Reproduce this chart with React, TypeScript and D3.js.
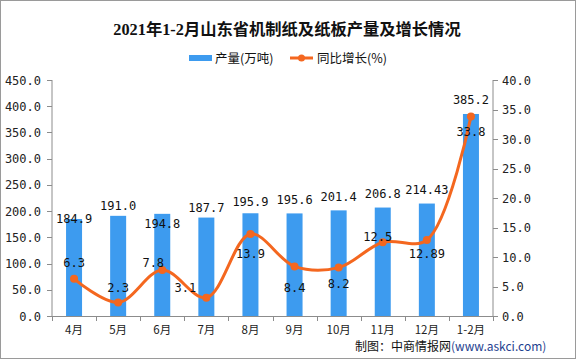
import React from "react";
import * as d3 from "d3";

const categories = ["4月", "5月", "6月", "7月", "8月", "9月", "10月", "11月", "12月", "1-2月"];
const production = [184.9, 191.0, 194.8, 187.7, 195.9, 195.6, 201.4, 206.8, 214.43, 385.2];
const productionLabels = ["184.9", "191.0", "194.8", "187.7", "195.9", "195.6", "201.4", "206.8", "214.43", "385.2"];
const growth = [6.3, 2.3, 7.8, 3.1, 13.9, 8.4, 8.2, 12.5, 12.89, 33.8];
const growthLabels = ["6.3", "2.3", "7.8", "3.1", "13.9", "8.4", "8.2", "12.5", "12.89", "33.8"];
const leftTicks = [0, 50, 100, 150, 200, 250, 300, 350, 400, 450];
const rightTicks = [0, 5, 10, 15, 20, 25, 30, 35, 40];

// label offsets (px) relative to the mark, to mimic the reference's placement
const barLabelDy = [-1, -10, 10, -10, -12, -14, -14, -14, -14, -14];
const lineLabelDx = [0, 0, -9, -21, 0, 0, 0, -5, 0, 0];
const lineLabelDy = [-16, -15, -7, -10, 20, 21, 16, -6, 14, 15];

const W = 576;
const H = 359;
const margin = { left: 52, right: 83, top: 80, bottom: 43 };

export default function App() {
  const x0 = margin.left;
  const x1 = W - margin.right;
  const yTop = margin.top;
  const yBot = H - margin.bottom;

  const x = d3.scaleBand<string>().domain(categories).range([x0, x1]).padding(0);
  const yL = d3.scaleLinear().domain([0, 450]).range([yBot, yTop]);
  const yR = d3.scaleLinear().domain([0, 40]).range([yBot, yTop]);
  const barW = 16;
  const cx = (c: string) => (x(c) as number) + x.bandwidth() / 2;

  const line = d3
    .line<number>()
    .x((_, i) => cx(categories[i]))
    .y((d) => yR(d))
    .curve(d3.curveCatmullRom.alpha(0.5));

  const axisColor = "#8c8c8c";
  const tickFont = "'DejaVu Sans Mono', 'Liberation Mono', monospace";
  const cjkFont = "'Noto Sans CJK SC', 'Noto Sans', sans-serif";
  const barColor = "#3d9bef";
  const lineColor = "#f4671f";

  return (
    <svg width={W} height={H} style={{ position: "absolute", left: 0, top: 0, background: "#fff" }}>
      <rect x={0.5} y={0.5} width={W - 1} height={H - 1} fill="#fff" stroke="#9a9a9a" />
      <text
        x={287}
        y={35}
        textAnchor="middle"
        fontFamily="'Liberation Serif', 'Noto Sans CJK SC', serif"
        fontWeight="bold"
        fontSize={16.3}
        fill="#111"
      >
        2021年1-2月山东省机制纸及纸板产量及增长情况
      </text>

      {/* legend */}
      <rect x={189} y={55} width={23} height={6} fill={barColor} />
      <text x={215} y={62.5} fontFamily={cjkFont} fontSize={12.5} fill="#111">
        产量(万吨)
      </text>
      <line x1={290} x2={313} y1={58} y2={58} stroke={lineColor} strokeWidth={3} />
      <circle cx={301.5} cy={58} r={3.5} fill={lineColor} />
      <text x={317} y={62.5} fontFamily={cjkFont} fontSize={12.5} fill="#111">
        同比增长(%)
      </text>

      {/* bars */}
      {production.map((v, i) => (
        <rect
          key={"b" + i}
          x={cx(categories[i]) - barW / 2}
          y={yL(v)}
          width={barW}
          height={yBot - yL(v)}
          fill={barColor}
        />
      ))}

      {/* axes */}
      <line x1={x0} x2={x0} y1={yTop} y2={yBot} stroke={axisColor} />
      <line x1={x1} x2={x1} y1={yTop} y2={yBot} stroke={axisColor} />
      <line x1={x0} x2={x1} y1={yBot + 0.5} y2={yBot + 0.5} stroke={axisColor} />
      {leftTicks.map((t) => (
        <g key={"l" + t}>
          <line x1={x0 - 5} x2={x0} y1={Math.round(yL(t)) + 0.5} y2={Math.round(yL(t)) + 0.5} stroke={axisColor} />
          <text x={41} y={yL(t) + 4.5} textAnchor="end" fontFamily={tickFont} fontSize={12} fill="#222">
            {t.toFixed(1)}
          </text>
        </g>
      ))}
      {rightTicks.map((t) => (
        <g key={"r" + t}>
          <line x1={x1} x2={x1 + 5} y1={Math.round(yR(t)) + 0.5} y2={Math.round(yR(t)) + 0.5} stroke={axisColor} />
          <text x={502} y={yR(t) + 4.5} textAnchor="start" fontFamily={tickFont} fontSize={12} fill="#222">
            {t.toFixed(1)}
          </text>
        </g>
      ))}
      {categories.map((c, i) => (
        <g key={"x" + i}>
          <line
            x1={Math.round(x(c) as number) + 0.5}
            x2={Math.round(x(c) as number) + 0.5}
            y1={yBot}
            y2={yBot + 5}
            stroke={axisColor}
          />
          <text x={cx(c)} y={yBot + 18} textAnchor="middle" fontFamily={cjkFont} fontSize={11.5} fill="#222">
            {c}
          </text>
        </g>
      ))}
      <line x1={x1 + 0.5} x2={x1 + 0.5} y1={yBot} y2={yBot + 5} stroke={axisColor} />

      {/* line */}
      <path d={line(growth) || ""} fill="none" stroke={lineColor} strokeWidth={3} />
      {growth.map((v, i) => (
        <circle key={"c" + i} cx={cx(categories[i])} cy={yR(v)} r={4} fill={lineColor} />
      ))}

      {/* bar labels */}
      {production.map((v, i) => (
        <text
          key={"bl" + i}
          x={cx(categories[i])}
          y={yL(v) + barLabelDy[i] + 4.5}
          textAnchor="middle"
          fontFamily={tickFont}
          fontSize={12}
          fill="#111"
        >
          {productionLabels[i]}
        </text>
      ))}
      {/* line labels */}
      {growth.map((v, i) => (
        <text
          key={"ll" + i}
          x={cx(categories[i]) + lineLabelDx[i]}
          y={yR(v) + lineLabelDy[i] + 4.5}
          textAnchor="middle"
          fontFamily={tickFont}
          fontSize={12}
          fill="#111"
        >
          {growthLabels[i]}
        </text>
      ))}

      {/* source */}
      <text x={355} y={351} fontFamily={cjkFont} fontSize={12} fill="#111">
        制图：中商情报网<tspan fill="#1f3f8f">(www.askci.com)</tspan>
      </text>
    </svg>
  );
}
